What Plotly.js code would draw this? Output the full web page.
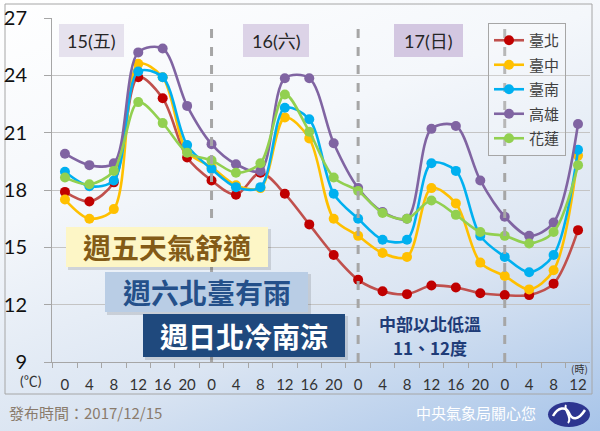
<!DOCTYPE html>
<html>
<head>
<meta charset="utf-8">
<script src="https://cdn.plot.ly/plotly-3.0.1.min.js"></script>
<style>
html,body{margin:0;padding:0;}
body{width:600px;height:431px;overflow:hidden;
background:linear-gradient(160deg,#ffffff 0%,#f4f7fb 35%,#dbe5f2 68%,#a7c4e9 100%);}
#chart{width:600px;height:431px;}
</style>
</head>
<body>
<div id="chart"></div>
<script>
// ---- data ----
const hourLabels = ['0','4','8','12','16','20','0','4','8','12','16','20','0','4','8','12','16','20','0','4','8','12'];
const cities = ['臺北','臺中','臺南','高雄','花蓮'];
const taipei    = [17.9,17.4,18.4,23.9,22.8,19.7, 18.5,17.75,18.9,17.8,16.2,14.6, 13.3,12.7,12.55,13.0,12.9,12.6, 12.5,12.5,13.1,15.9];
const taichung  = [17.5,16.5,17.0,24.6,23.9,20.0, 19.2,18.25,18.1,21.8,20.7,16.5, 15.6,14.7,14.5,18.1,17.3,14.2, 13.5,12.8,13.8,19.8];
const tainan    = [18.95,18.2,18.5,24.2,23.9,20.35, 19.1,18.15,18.15,22.3,21.7,17.8, 16.5,15.4,15.4,19.4,19.0,15.6, 14.5,13.7,14.6,20.1];
const kaohsiung = [19.9,19.3,19.4,25.2,25.4,22.4, 20.4,19.35,19.0,23.85,23.85,20.45, 18.1,16.85,16.5,21.2,21.35,18.5, 16.6,15.6,16.3,21.45];
const hualien   = [18.65,18.3,19.0,22.6,21.5,19.95, 19.55,18.9,19.4,23.0,21.05,18.65, 17.95,16.8,16.5,17.45,16.7,15.8, 15.6,15.2,15.8,19.3];
const dayLabels = ['15(五)','16(六)','17(日)'];
const dayStartIdx = [6,12,18];
const yTicks = [9,12,15,18,21,24,27];

// ---- styling ----
const lineColors   = ['#c0504d','#ffc000','#00b0f0','#8064a2','#92d050'];
const markerColors = ['#c00000','#ffc000','#00b0f0','#8064a2','#92d050'];
const series = [taipei,taichung,tainan,kaohsiung,hualien];
const xIdx = hourLabels.map((_,i)=>i);

const L=52,R=590,T=18,B=362;
const xp = px => (px-L)/(R-L);
const yp = py => (B-py)/(B-T);

const traces = series.map((s,k)=>({
  type:'scatter', mode:'lines+markers', name:cities[k], x:xIdx, y:s,
  line:{color:lineColors[k], width:2.6, shape:'spline', smoothing:0.9},
  marker:{color:markerColors[k], size:10},
  legendgroup:'g'+k, hoverinfo:'skip'
}));

const cjk = 'Noto Sans CJK TC, sans-serif';
const num = 'Lato, Noto Sans CJK TC, sans-serif';

const shapes = [];
// frame
shapes.push({type:'rect',xref:'paper',yref:'paper',x0:xp(5),x1:xp(592),y0:yp(394),y1:yp(4),
  line:{color:'#a6a6a6',width:1},fillcolor:'rgba(0,0,0,0)',layer:'below'});
// day separators
dayStartIdx.forEach(i=>shapes.push({type:'line',xref:'x',yref:'paper',x0:i,x1:i,y0:0,y1:yp(23),
  line:{color:'#a6a6a6',width:3,dash:'dash'},layer:'above'}));
// day label boxes
const dayBox = [[59,124,'#e6e2ee'],[243,309,'#dcd3e7'],[394,463,'#d3c7e1']];
dayBox.forEach(b=>shapes.push({type:'rect',xref:'paper',yref:'paper',x0:xp(b[0]),x1:xp(b[1]),y0:yp(57),y1:yp(24),
  line:{width:0},fillcolor:b[2],layer:'below'}));
// message boxes (shadow + box)
const msgBox = [[66,268,227,267,'#fdf6c6'],[105,308,272,312,'#b9cde5'],[143,345,314,357,'#1f497d']];
msgBox.forEach(b=>{
  shapes.push({type:'rect',xref:'paper',yref:'paper',x0:xp(b[0]+2),x1:xp(b[1]+3),y0:yp(b[3]+3),y1:yp(b[2]+2),
    line:{width:0},fillcolor:'rgba(0,0,0,0.12)',layer:'above'});
  shapes.push({type:'rect',xref:'paper',yref:'paper',x0:xp(b[0]),x1:xp(b[1]),y0:yp(b[3]),y1:yp(b[2]),
    line:{width:0},fillcolor:b[4],layer:'above'});
});
// logo
shapes.push({type:'circle',xref:'paper',yref:'paper',x0:xp(548),x1:xp(590),y0:yp(427),y1:yp(402),
  line:{width:0},fillcolor:'#2d3590',layer:'above'});
function pth(pts){
  return pts.map(p=>{const c=p[0];const r=[];for(let i=1;i<p.length;i+=2){r.push(xp(p[i])+','+yp(p[i+1]));}return c+' '+r.join(' ');}).join(' ');
}
shapes.push({type:'path',xref:'paper',yref:'paper',layer:'above',
  path:pth([['M',553,416],['C',558,407,566,406,569,413],['S',578,421,585,410]]),
  line:{color:'#ffffff',width:2.5}});
shapes.push({type:'path',xref:'paper',yref:'paper',layer:'above',
  path:pth([['M',566,405],['C',563,410,573,417,568,423]]),
  line:{color:'#ffffff',width:2}});

const annotations = [];
const dayCenters = [91.5,276,428.5];
dayLabels.forEach((t,i)=>annotations.push({xref:'paper',yref:'paper',x:xp(dayCenters[i]),y:yp(40.5),
  text:t,showarrow:false,font:{family:num,size:18,color:'#262626'},xanchor:'center',yanchor:'middle'}));
const msgs = [['週五天氣舒適','#835b17'],['週六北臺有雨','#24508a'],['週日北冷南涼','#ffffff']];
msgs.forEach((m,i)=>{const b=msgBox[i];annotations.push({xref:'paper',yref:'paper',
  x:xp((b[0]+b[1])/2),y:yp((b[2]+b[3])/2),text:m[0],showarrow:false,xanchor:'center',yanchor:'middle',
  font:{family:cjk,size:28,color:m[1],weight:'bold'}});});
annotations.push({xref:'paper',yref:'paper',x:xp(430),y:yp(323),text:'中部以北低溫',
  showarrow:false,xanchor:'center',yanchor:'middle',
  font:{family:cjk,size:17,color:'#1f3c78',weight:'bold'}});
annotations.push({xref:'paper',yref:'paper',x:xp(430),y:yp(347),text:'11、12度',
  showarrow:false,xanchor:'center',yanchor:'middle',
  font:{family:cjk,size:17,color:'#1f3c78',weight:'bold'}});
annotations.push({xref:'paper',yref:'paper',x:xp(31),y:yp(380),text:'(℃)',showarrow:false,
  xanchor:'center',yanchor:'middle',font:{family:num,size:14,color:'#333333'}});
annotations.push({xref:'paper',yref:'paper',x:xp(579),y:yp(368),text:'(時)',showarrow:false,
  xanchor:'center',yanchor:'middle',font:{family:cjk,size:10,color:'#333333'}});
annotations.push({xref:'paper',yref:'paper',x:xp(7),y:yp(412),text:'發布時間：2017/12/15',showarrow:false,
  xanchor:'left',yanchor:'middle',font:{family:cjk,size:15,color:'#8a7b6c'}});
annotations.push({xref:'paper',yref:'paper',x:xp(476),y:yp(412),text:'中央氣象局關心您',showarrow:false,
  xanchor:'center',yanchor:'middle',font:{family:cjk,size:15,color:'#ffffff'}});

const layout = {
  width:600,height:431,
  margin:{l:L,r:600-R,t:T,b:431-B},
  paper_bgcolor:'rgba(0,0,0,0)',plot_bgcolor:'rgba(0,0,0,0)',
  showlegend:true,
  legend:{x:xp(488),y:yp(23),xanchor:'left',yanchor:'top',bgcolor:'rgba(255,255,255,0.2)',
    bordercolor:'#a6a6a6',borderwidth:1,font:{family:cjk,size:15,color:'#404040'},
    itemwidth:30,traceorder:'grouped',tracegroupgap:2},
  xaxis:{range:[-0.53,21.49],tickmode:'array',tickvals:xIdx,ticktext:hourLabels,
    showgrid:false,zeroline:false,showline:true,linecolor:'#a6a6a6',linewidth:1,
    ticks:'',ticklabelstandoff:9,tickfont:{family:num,size:15,color:'#333333'},
    minor:{tickmode:'linear',tick0:-0.5,dtick:1,ticks:'outside',ticklen:5,tickcolor:'#a6a6a6',showgrid:false},
    fixedrange:true},
  yaxis:{range:[9,27],tickmode:'array',tickvals:yTicks,showgrid:true,gridcolor:'#c4c4c4',gridwidth:1,
    zeroline:false,showline:true,linecolor:'#a6a6a6',linewidth:1,ticks:'outside',ticklen:7,tickcolor:'#a6a6a6',
    ticklabelstandoff:13,tickfont:{family:num,size:20,color:'#111111'},fixedrange:true},
  shapes:shapes,annotations:annotations
};
Plotly.newPlot('chart',traces,layout,{displayModeBar:false,staticPlot:true});
</script>
</body>
</html>
